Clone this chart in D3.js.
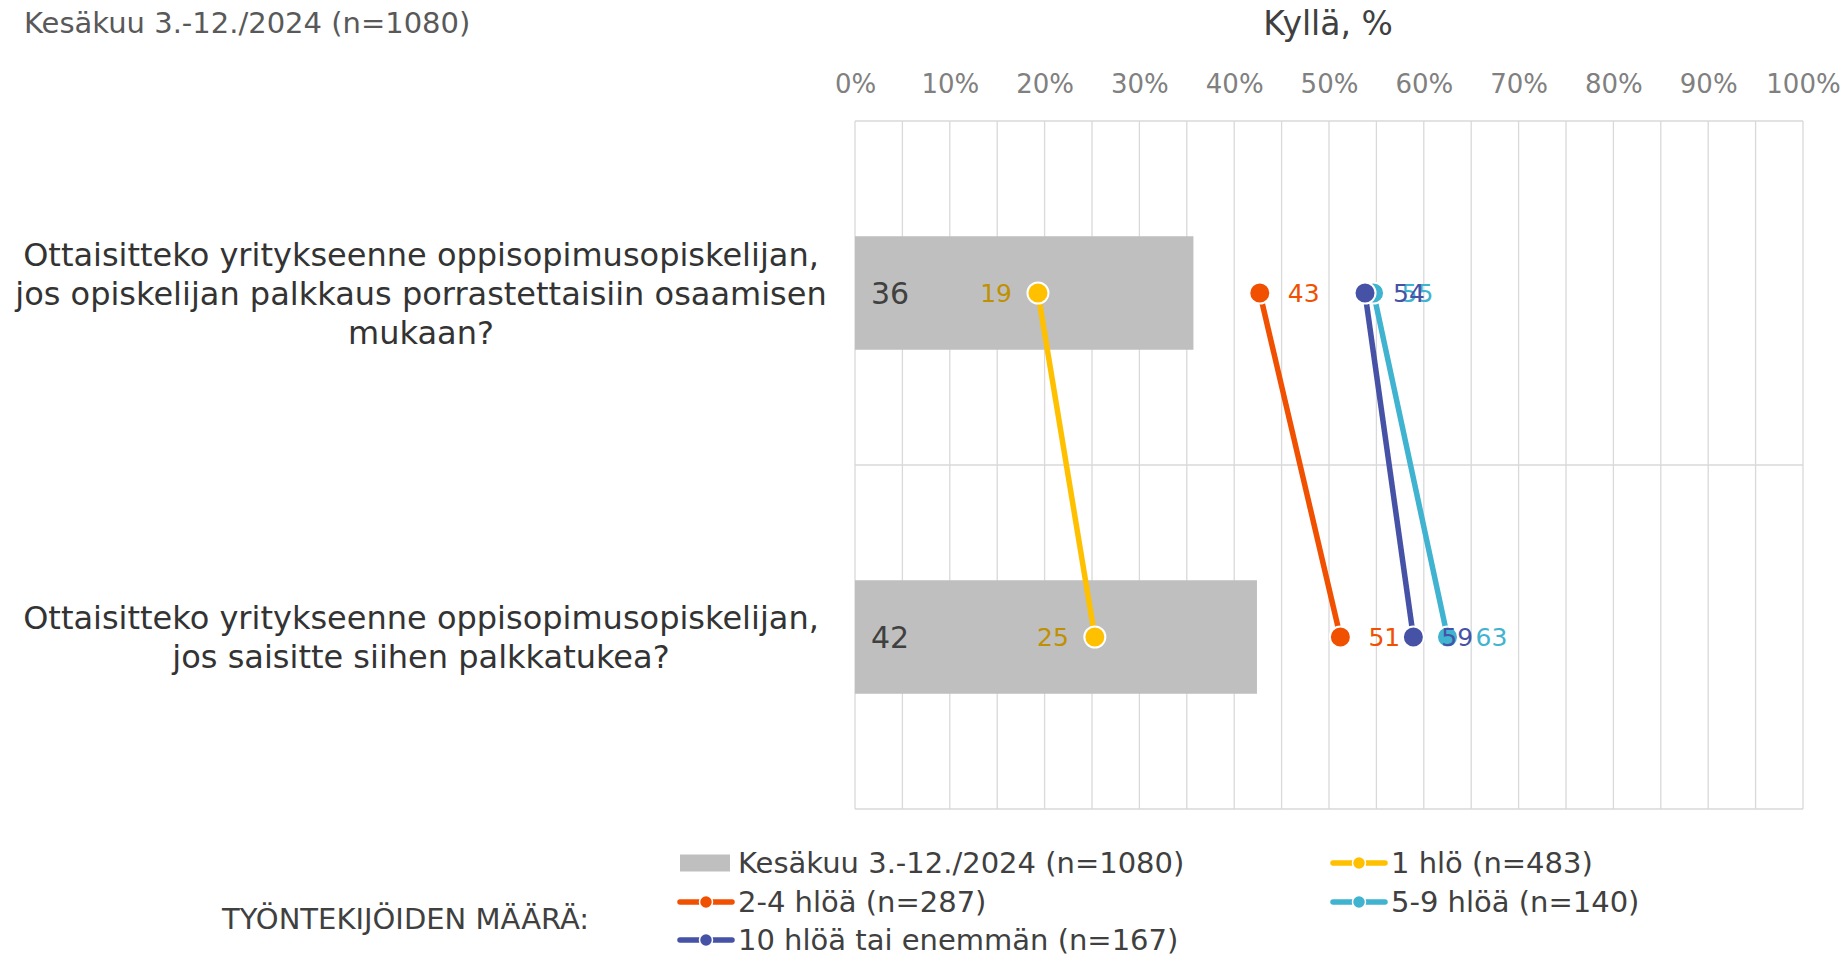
<!DOCTYPE html>
<html>
<head>
<meta charset="utf-8">
<script src="https://cdn.jsdelivr.net/npm/d3@7"></script>
<style>
  html, body { margin: 0; padding: 0; background: #fff; }
  svg { display: block; font-family: "DejaVu Sans", Verdana, sans-serif; }
</style>
</head>
<body>
<svg id="chart" width="1848" height="957"></svg>
<script>
// ---------- DATA ----------
const categories = [
  ["Ottaisitteko yritykseenne oppisopimusopiskelijan,", "jos opiskelijan palkkaus porrastettaisiin osaamisen", "mukaan?"],
  ["Ottaisitteko yritykseenne oppisopimusopiskelijan,", "jos saisitte siihen palkkatukea?"]
];
const barName = "Kesäkuu 3.-12./2024 (n=1080)";
const barValues = [35.7, 42.4];
const seriesNames = ["1 hlö (n=483)", "2-4 hlöä (n=287)", "5-9 hlöä (n=140)", "10 hlöä tai enemmän (n=167)"];
const series1hlo = [19.3, 25.3];
const series2to4 = [42.7, 51.2];
const series5to9 = [54.7, 62.5];
const series10plus = [53.8, 58.9];
const xTicks = [0, 10, 20, 30, 40, 50, 60, 70, 80, 90, 100];
const titleText = "Kesäkuu 3.-12./2024 (n=1080)";
const axisTitle = "Kyllä, %";
const legendTitle = "TYÖNTEKIJÖIDEN MÄÄRÄ:";

// ---------- STYLE ----------
const lineColors = ["#FFC000", "#F05000", "#3FB3CF", "#4652A6"];
const labelColors = ["#BF9000", "#F05000", "#3FB3CF", "#4652A6"];
const labelSide = ["left", "right", "right", "right"];
const seriesValues = [series1hlo, series2to4, series5to9, series10plus];

const svg = d3.select("#chart");
const plot = { left: 855, right: 1803, top: 121, bottom: 809 };

const x = d3.scaleLinear().domain([0, 100]).range([plot.left, plot.right]);
const y = d3.scaleBand().domain(d3.range(categories.length)).range([plot.top, plot.bottom]).padding(0);
const yc = i => y(i) + y.bandwidth() / 2;

// gridlines
const grid = svg.append("g");
grid.selectAll("line.v").data(d3.range(0, 101, 5)).join("line")
  .attr("x1", d => x(d)).attr("x2", d => x(d))
  .attr("y1", plot.top).attr("y2", plot.bottom)
  .attr("stroke", "#D9D9D9").attr("stroke-width", 1.3);
const hLines = [plot.top].concat(d3.range(categories.length).map(i => y(i) + y.bandwidth()));
grid.selectAll("line.h").data(hLines).join("line")
  .attr("x1", plot.left).attr("x2", plot.right)
  .attr("y1", d => d).attr("y2", d => d)
  .attr("stroke", "#D9D9D9").attr("stroke-width", 1.3);

// axis
const axis = d3.axisTop(x).tickValues(xTicks).tickFormat(d => d + "%").tickSize(0).tickPadding(28);
const ag = svg.append("g").attr("transform", `translate(0,${plot.top})`).call(axis);
ag.select(".domain").remove();
ag.selectAll("text").attr("font-size", 26).attr("fill", "#808080")
  .attr("font-family", '"DejaVu Sans", Verdana, sans-serif');

// bars
const barH = y.bandwidth() * 0.33;
svg.append("g").selectAll("rect").data(barValues).join("rect")
  .attr("x", x(0)).attr("width", d => x(d) - x(0))
  .attr("y", (d, i) => yc(i) - barH / 2).attr("height", barH)
  .attr("fill", "#BFBFBF");
svg.append("g").selectAll("text").data(barValues).join("text")
  .attr("x", x(0) + 16).attr("y", (d, i) => yc(i)).attr("dy", "0.36em")
  .attr("font-size", 30).attr("fill", "#404040")
  .text(d => Math.round(d));

// lines
const lineGen = d3.line().x(d => x(d.v)).y(d => yc(d.i));
seriesValues.forEach((vals, s) => {
  svg.append("path")
    .datum(vals.map((v, i) => ({ v, i })))
    .attr("d", lineGen)
    .attr("fill", "none").attr("stroke", lineColors[s]).attr("stroke-width", 5.5);
});
// markers
seriesValues.forEach((vals, s) => {
  svg.append("g").selectAll("circle").data(vals).join("circle")
    .attr("cx", d => x(d)).attr("cy", (d, i) => yc(i)).attr("r", 10.5)
    .attr("fill", lineColors[s]).attr("stroke", "#fff").attr("stroke-width", 2);
});
// labels
seriesValues.forEach((vals, s) => {
  svg.append("g").selectAll("text").data(vals).join("text")
    .attr("x", d => labelSide[s] === "left" ? x(d) - 26 : x(d) + 28)
    .attr("y", (d, i) => yc(i)).attr("dy", "0.36em")
    .attr("text-anchor", labelSide[s] === "left" ? "end" : "start")
    .attr("font-size", 25).attr("fill", labelColors[s])
    .text(d => Math.round(d));
});

// category labels
const lineH = 39;
categories.forEach((lines, i) => {
  const g = svg.append("g");
  const cx = 421;
  const n = lines.length;
  g.selectAll("text").data(lines).join("text")
    .attr("x", cx).attr("y", (d, k) => yc(i) + (k - (n - 1) / 2) * lineH)
    .attr("dy", "0.36em").attr("text-anchor", "middle")
    .attr("font-size", 32).attr("fill", "#333333")
    .text(d => d);
});

// title & axis title
svg.append("text").attr("x", 24).attr("y", 33).attr("font-size", 29).attr("fill", "#595959").text(titleText);
svg.append("text").attr("x", 1328).attr("y", 35).attr("text-anchor", "middle")
  .attr("font-size", 33).attr("fill", "#404040").text(axisTitle);

// legend
const leg = svg.append("g");
leg.append("text").attr("x", 222).attr("y", 919).attr("dy", "0.36em")
  .attr("font-size", 29).attr("fill", "#404040").text(legendTitle);
const legItems = [
  { type: "bar", name: barName, col: 0, row: 0, color: "#BFBFBF" },
  { type: "line", name: seriesNames[0], col: 1, row: 0, color: lineColors[0] },
  { type: "line", name: seriesNames[1], col: 0, row: 1, color: lineColors[1] },
  { type: "line", name: seriesNames[2], col: 1, row: 1, color: lineColors[2] },
  { type: "line", name: seriesNames[3], col: 0, row: 2, color: lineColors[3] }
];
const colX = [678, 1331];
const rowY = [863, 902, 940];
legItems.forEach(it => {
  const gx = colX[it.col], gy = rowY[it.row];
  if (it.type === "bar") {
    leg.append("rect").attr("x", gx + 2).attr("y", gy - 8.5).attr("width", 50).attr("height", 17).attr("fill", it.color);
  } else {
    leg.append("line").attr("x1", gx + 2).attr("x2", gx + 54).attr("y1", gy).attr("y2", gy)
      .attr("stroke", it.color).attr("stroke-width", 5.5).attr("stroke-linecap", "round");
    leg.append("circle").attr("cx", gx + 28).attr("cy", gy).attr("r", 6.5)
      .attr("fill", it.color).attr("stroke", "#fff").attr("stroke-width", 1.5);
  }
  leg.append("text").attr("x", gx + 60).attr("y", gy).attr("dy", "0.36em")
    .attr("font-size", 29).attr("fill", "#404040").text(it.name);
});
</script>
</body>
</html>
